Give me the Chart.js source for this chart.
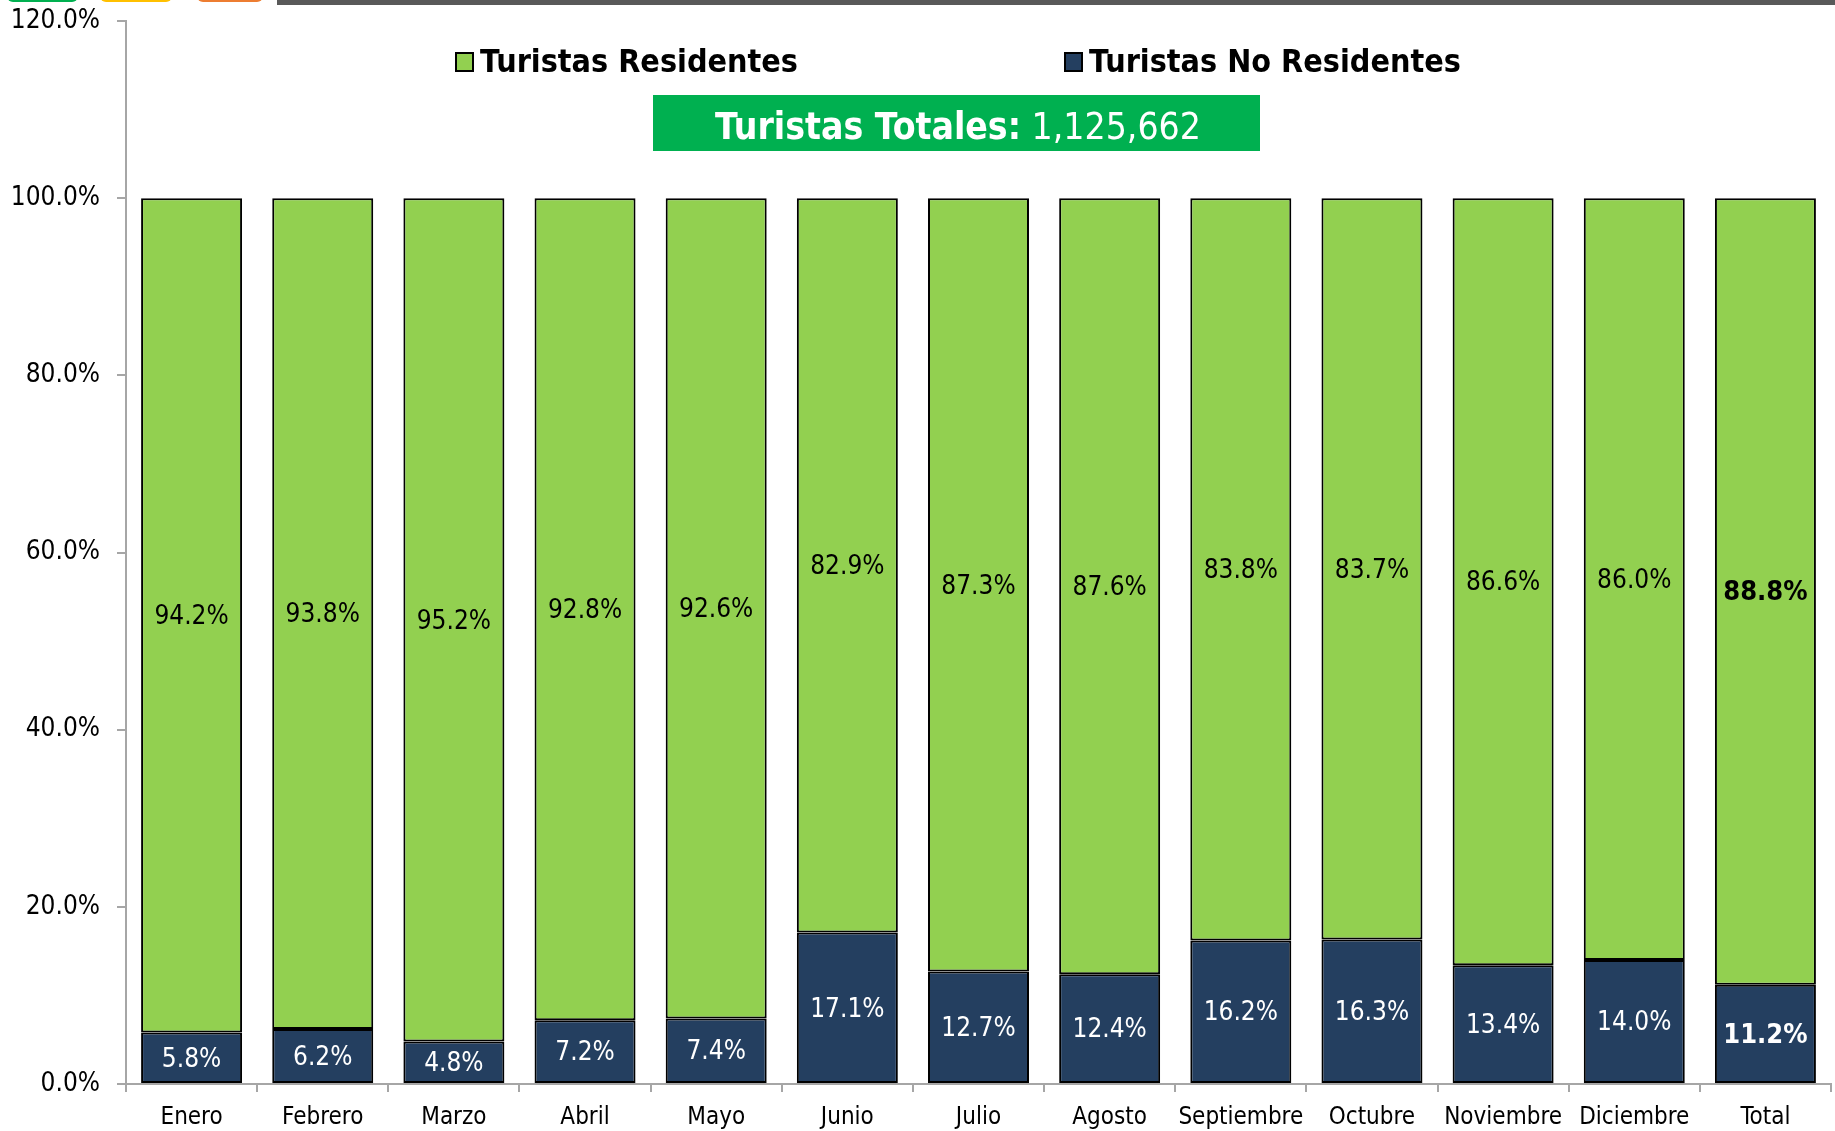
<!DOCTYPE html>
<html lang="es">
<head>
<meta charset="utf-8">
<title>Turistas Residentes y No Residentes</title>
<script src="https://cdn.jsdelivr.net/npm/chart.js@4.4.1/dist/chart.umd.min.js"></script>
<style>
    html, body { margin: 0; padding: 0; background: #ffffff; }
    #wrap { position: relative; width: 1835px; height: 1131px; overflow: hidden; }
    .tab { position: absolute; top: -4px; height: 6px; border-radius: 0 0 6px 6px; }
    #bar-top { position: absolute; top: 0; left: 277px; right: 0; height: 5px; background: #595959; }
</style>
</head>
<body>
<div id="wrap">
    <div class="tab" style="left:7px;width:71px;background:#00b050"></div>
    <div class="tab" style="left:100px;width:72px;background:#ffc000"></div>
    <div class="tab" style="left:197px;width:66px;background:#ed7d31"></div>
    <div id="bar-top"></div>
    <canvas id="turistasChart"></canvas>
</div>
<script>
// Data
const months = ['Enero', 'Febrero', 'Marzo', 'Abril', 'Mayo', 'Junio', 'Julio',
    'Agosto', 'Septiembre', 'Octubre', 'Noviembre', 'Diciembre', 'Total'];
const residentes = [94.2, 93.8, 95.2, 92.8, 92.6, 82.9, 87.3, 87.6, 83.8, 83.7, 86.6, 86.0, 88.8];
const noResidentes = [5.8, 6.2, 4.8, 7.2, 7.4, 17.1, 12.7, 12.4, 16.2, 16.3, 13.4, 14.0, 11.2];
const yTicks = [0, 20, 40, 60, 80, 100, 120];
const totalTuristas = '1,125,662';

const FONT = '"DejaVu Sans Condensed", "DejaVu Sans", Tahoma, sans-serif';
const GREEN = '#92d050';
const NAVY = '#243f60';
const AXIS_GREY = '#a6a6a6';

// Labels inside each bar segment
const barLabels = {
    id: 'barLabels',
    afterDatasetsDraw(chart) {
        const ctx = chart.ctx;
        ctx.save();
        ctx.textAlign = 'center';
        ctx.textBaseline = 'middle';
        chart.data.datasets.forEach((ds, i) => {
            const meta = chart.getDatasetMeta(i);
            meta.data.forEach((bar, j) => {
                const isTotal = j === months.length - 1;
                ctx.font = (isTotal ? 'bold 27px ' : '26px ') + FONT;
                ctx.fillStyle = ds.labelColor;
                const y = (bar.y + bar.base) / 2;
                ctx.fillText(ds.data[j].toFixed(1) + '%', bar.x, y + 2);
            });
        });
        ctx.restore();
    }
};

// Legend and total box drawn over the top of the plot
const topLegend = {
    id: 'topLegend',
    afterDraw(chart) {
        const ctx = chart.ctx;
        ctx.save();
        const items = [
            { ds: chart.data.datasets[1], x: 456 },
            { ds: chart.data.datasets[0], x: 1065 }
        ];
        items.forEach(item => {
            ctx.fillStyle = item.ds.backgroundColor;
            ctx.fillRect(item.x, 53, 17, 18);
            ctx.strokeStyle = '#000000';
            ctx.lineWidth = 2;
            ctx.strokeRect(item.x, 53, 17, 18);
            ctx.fillStyle = '#000000';
            ctx.font = 'bold 32px ' + FONT;
            ctx.textAlign = 'left';
            ctx.textBaseline = 'middle';
            ctx.fillText(item.ds.label, item.x + 24, 64);
        });

        // Total box
        ctx.fillStyle = '#00b050';
        ctx.fillRect(653, 95, 607, 56);
        ctx.fillStyle = '#ffffff';
        ctx.textBaseline = 'middle';
        ctx.font = 'bold 37px ' + FONT;
        const part1 = 'Turistas Totales:';
        const part2 = ' ' + totalTuristas;
        const w1 = ctx.measureText(part1).width;
        ctx.font = '37px ' + FONT;
        const w2 = ctx.measureText(part2).width;
        let x = 958 - (w1 + w2) / 2;
        ctx.textAlign = 'left';
        ctx.font = 'bold 37px ' + FONT;
        ctx.fillText(part1, x, 129);
        ctx.font = '37px ' + FONT;
        ctx.fillText(part2, x + w1, 129);
        ctx.restore();
    }
};

const canvas = document.getElementById('turistasChart');
new Chart(canvas, {
    type: 'bar',
    data: {
        labels: months,
        datasets: [{
            label: 'Turistas No Residentes',
            data: noResidentes,
            backgroundColor: NAVY,
            labelColor: '#ffffff',
            borderColor: '#000000',
            borderWidth: 2,
            borderSkipped: false
        }, {
            label: 'Turistas Residentes',
            data: residentes,
            backgroundColor: GREEN,
            labelColor: '#000000',
            borderColor: '#000000',
            borderWidth: 2,
            borderSkipped: false
        }]
    },
    options: {
        responsive: true,
        maintainAspectRatio: false,
        animation: false,
        layout: { padding: { top: 21, right: 4, left: 0, bottom: 0 } },
        datasets: {
            bar: { categoryPercentage: 1, barPercentage: 0.77 }
        },
        plugins: {
            legend: { display: false },
            title: { display: false },
            tooltip: { enabled: false }
        },
        scales: {
            x: {
                stacked: true,
                offset: true,
                grid: {
                    offset: true,
                    drawOnChartArea: false,
                    drawTicks: true,
                    tickLength: 8,
                    color: AXIS_GREY,
                    lineWidth: 2
                },
                border: { color: AXIS_GREY, width: 2 },
                ticks: {
                    color: '#000000',
                    font: { family: FONT, size: 24 },
                    padding: 11,
                    maxRotation: 0,
                    autoSkip: false
                },
                afterFit(scale) { scale.height = 47; }
            },
            y: {
                stacked: true,
                min: 0,
                max: 120,
                afterBuildTicks(scale) {
                    scale.ticks = yTicks.map(v => ({ value: v }));
                },
                grid: {
                    drawOnChartArea: false,
                    drawTicks: true,
                    tickLength: 9,
                    color: AXIS_GREY,
                    lineWidth: 2
                },
                border: { color: AXIS_GREY, width: 2 },
                ticks: {
                    color: '#000000',
                    font: { family: FONT, size: 26 },
                    padding: 17,
                    callback: v => v.toFixed(1) + '%'
                },
                afterFit(scale) {
                    scale.width = 126;
                    scale.paddingTop = 0;
                    scale.paddingBottom = 0;
                }
            }
        }
    },
    plugins: [barLabels, topLegend]
});
</script>
</body>
</html>
